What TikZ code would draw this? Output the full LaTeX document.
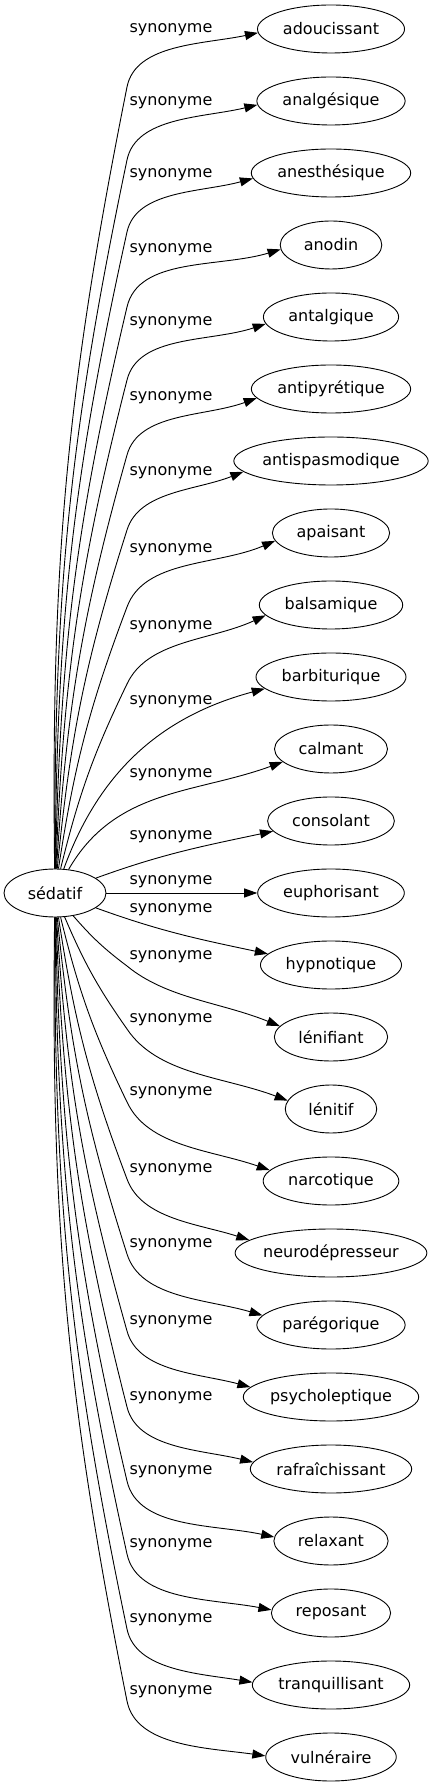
\documentclass[tikz,border=0pt]{standalone}
\usepackage{fontspec}
\setmainfont{DejaVu Sans}
\usetikzlibrary{positioning,calc,arrows.meta,shapes.geometric}

\tikzset{
	mot/.style={draw, ellipse, inner sep=0pt, minimum height=48pt, line width=0.9pt, font=\fontsize{16}{19}\selectfont},
	etiq/.style={inner sep=0pt, font=\fontsize{16}{19}\selectfont},
	lien/.style={line width=0.9pt, -{Triangle[length=13pt,width=9pt]}}
}

\begin{document}
\begin{tikzpicture}[x=1pt,y=1pt]
			\fontsize{16}{19}\selectfont
			\useasboundingbox (-55,-894) rectangle (383,893);
			
			\node[mot, minimum width=102pt] (sed) at (0,0) {sédatif};
			
			% mots, etiquettes et liens
			\foreach \t/\ly [count=\i from 0] in {adoucissant/863, analgésique/790, anesthésique/718,
				anodin/643, antalgique/570, antipyrétique/495, antispasmodique/420, apaisant/343,
				balsamique/266, barbiturique/191, calmant/118, consolant/56, euphorisant/11,
				hypnotique/-17, lénifiant/-64, lénitif/-127, narcotique/-200, neurodépresseur/-277,
				parégorique/-352, psycholeptique/-429, rafraîchissant/-505, relaxant/-579,
				reposant/-652, tranquillisant/-727, vulnéraire/-799} {
				\pgfmathsetmacro\w{1.094*width("\t")+42}
				\node[mot, minimum width=\w pt] (w\i) at (276,{72*(12-\i)}) {\t};
				\node[etiq] (l\i) at (116,\ly) {synonyme};
				\ifnum\i<9
					\pgfmathsetmacro\by{\ly-57}
					\coordinate (b\i) at (72,\by);
					\pgfmathsetmacro\ang{atan2(\by,72)-6}
					\pgfmathsetmacro\ain{192+1.6*\i}
					\pgfmathtruncatemacro\aan{183+0.8*\i}
					\draw[lien] (sed) to[bend left=6] (b\i) to[out=\ang, in=\ain, out looseness=0.8] (w\i.\aan);
				\fi
				\ifnum\i>13
					\pgfmathsetmacro\by{\ly-9}
					\coordinate (b\i) at (72,\by);
					\pgfmathsetmacro\ang{atan2(\by,72)+6}
					\pgfmathsetmacro\ain{158+1.4*(\i-14)}
					\pgfmathtruncatemacro\aan{168+1.2*(\i-14)}
					\draw[lien] (sed) to[bend right=6] (b\i) to[out=\ang, in=\ain, out looseness=0.8] (w\i.\aan);
				\fi
			}
			
			\draw[lien] (sed) to[out=70, in=195] (w9.190);
			\draw[lien] (sed) to[out=60, in=200] (w10.195);
			\draw[lien] (sed) to[out=20, in=192] (w11.190);
			\draw[lien] (sed) -- (w12);
			\draw[lien] (sed) to[out=-20, in=168] (w13.170);
		\end{tikzpicture}
\end{document}
